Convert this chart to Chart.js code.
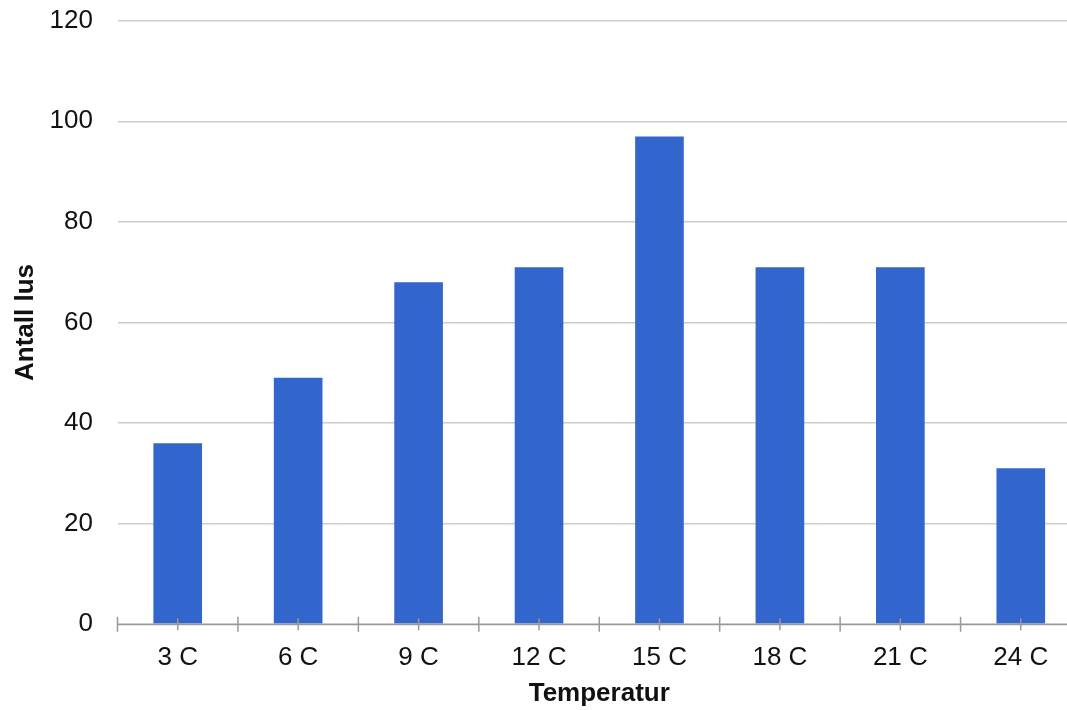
<!DOCTYPE html>
<html>
<head>
<meta charset="utf-8">
<script src="https://cdn.jsdelivr.net/npm/chart.js@4"></script>
<style>
  html, body { margin: 0; padding: 0; background: #fff; overflow: hidden; }
  #wrap { width: 1081px; height: 710px; position: relative; }
</style>
</head>
<body>
<div id="wrap"><canvas id="c"></canvas></div>
<script>
const categories = ["3 C", "6 C", "9 C", "12 C", "15 C", "18 C", "21 C", "24 C"];
const antallLus = [36, 49, 68, 71, 97, 71, 71, 31];
const yTicks = [0, 20, 40, 60, 80, 100, 120];
const xTitle = "Temperatur";
const yTitle = "Antall lus";

const FONT = "'Liberation Sans', Arial, Helvetica, sans-serif";
const AXIS = "#999999";

const axisTicksPlugin = {
  id: 'axisTicks',
  afterDatasetsDraw(chart) {
    const x = chart.scales.x;
    const ctx = chart.ctx;
    const y0 = chart.chartArea.bottom;
    const n = categories.length;
    const half = (x.getPixelForValue(1) - x.getPixelForValue(0)) / 2;
    ctx.save();
    ctx.strokeStyle = AXIS;
    ctx.lineWidth = 1.5;
    ctx.beginPath();
    ctx.moveTo(chart.chartArea.left, y0);
    ctx.lineTo(chart.width, y0);
    ctx.stroke();
    for (let i = 0; i <= n; i++) {
      const bx = x.getPixelForValue(Math.min(i, n - 1)) + (i === n ? half : -half);
      ctx.beginPath();
      ctx.moveTo(bx, y0 - 7.5);
      ctx.lineTo(bx, y0 + 7.5);
      ctx.stroke();
    }
    for (let i = 0; i < n; i++) {
      const cx = x.getPixelForValue(i);
      ctx.beginPath();
      ctx.moveTo(cx, y0 - 6);
      ctx.lineTo(cx, y0 + 6);
      ctx.stroke();
    }
    ctx.restore();
  }
};

new Chart(document.getElementById('c'), {
  type: 'bar',
  data: {
    labels: categories,
    datasets: [{
      data: antallLus,
      backgroundColor: '#3366cc',
      borderWidth: 0,
      barPercentage: 0.404,
      categoryPercentage: 1.0
    }]
  },
  plugins: [axisTicksPlugin],
  options: {
    responsive: true,
    maintainAspectRatio: false,
    animation: false,
    devicePixelRatio: 1,
    layout: { padding: { top: 20.7, right: 0, left: 0, bottom: 0 } },
    plugins: { legend: { display: false }, tooltip: { enabled: false } },
    scales: {
      x: {
        grid: { display: false, drawTicks: true, tickLength: 16, tickColor: 'rgba(0,0,0,0)' },
        border: { display: false },
        ticks: {
          color: '#111111',
          font: { family: FONT, size: 26, lineHeight: 1.2 },
          padding: 2,
          maxRotation: 0,
          autoSkip: false
        },
        title: {
          display: true,
          text: xTitle,
          color: '#111111',
          font: { family: FONT, size: 26, weight: 'bold', lineHeight: 1.2 },
          padding: { top: 0, bottom: 0.4 }
        },
        afterFit(scale) { scale.height = 85.7; }
      },
      y: {
        min: 0,
        max: 120,
        afterBuildTicks(scale) { scale.ticks = yTicks.map(v => ({ value: v })); },
        grid: { color: '#cccccc', lineWidth: 1.5, drawTicks: true, tickLength: 24.5, tickColor: 'rgba(0,0,0,0)' },
        border: { display: false },
        ticks: {
          color: '#111111',
          font: { family: FONT, size: 26, lineHeight: 1.2 },
          padding: 0
        },
        title: {
          display: true,
          text: yTitle,
          color: '#111111',
          font: { family: FONT, size: 26, weight: 'bold', lineHeight: 1.2 },
          padding: { top: 10.4, bottom: 0 }
        },
        afterFit(scale) { scale.width = 117.5; }
      }
    }
  }
});
</script>
</body>
</html>
